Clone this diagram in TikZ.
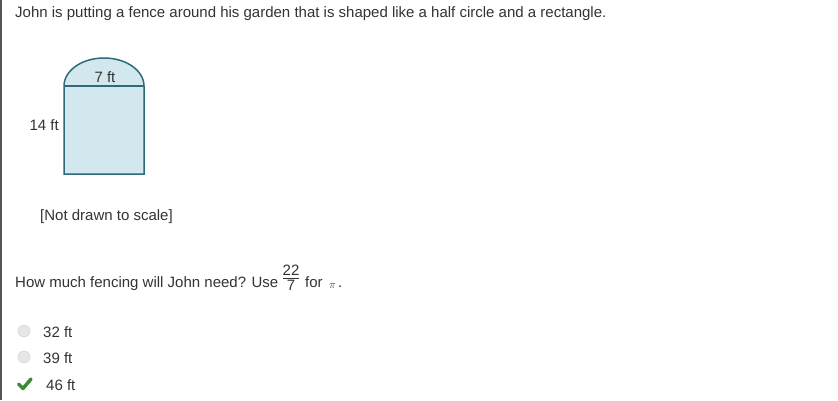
\documentclass[tikz,border=0pt]{standalone}
\usepackage{fontspec}
\setmainfont{Liberation Sans}
\newfontfamily\mathish{Liberation Serif}
\definecolor{txt}{HTML}{333333}
\definecolor{edge}{HTML}{2F6A78}
\definecolor{fillb}{HTML}{D3E7EE}
\definecolor{radio}{HTML}{E6E6E6}
\definecolor{radioe}{HTML}{D6D6D6}
\definecolor{okgreen}{HTML}{3A8A3A}
\definecolor{bar}{HTML}{555555}
\tikzset{
  lbl/.style={inner sep=0pt, anchor=base west, text=txt, font=\fontsize{15}{17}\selectfont},
  radiobtn/.style={circle, draw=radioe, fill=radio, minimum size=12pt, inner sep=0pt, line width=0.6pt},
}
\begin{document}
\begin{tikzpicture}[x=1pt,y=-1pt]
\useasboundingbox (0,0) rectangle (838,400);
\fill[white] (0,0) rectangle (838,400);
\fill[bar] (0,0) rectangle (2,400);
% title
\node[lbl] (title) at (15,17) {John is putting a fence around his garden that is shaped like a half circle and a rectangle.};
% garden shape
\coordinate (tl) at (64,86);
\coordinate (tr) at (144,86);
\coordinate (br) at (144,174);
\coordinate (bl) at (64,174);
\filldraw[draw=edge, fill=fillb, line width=1.5pt] (bl) -- (tl) arc[start angle=180, end angle=0, x radius=40, y radius=-28] -- (br) -- cycle;
\draw[edge, line width=1.2pt] (tl) -- (tr);
\node[lbl, anchor=base] (top) at (105,82) {7 ft};
\node[lbl, anchor=base east] (side) at (59,130) {14 ft};
\node[lbl] (scale) at (40,220) {[Not drawn to scale]};
% question
\node[lbl] (q) at (15,287) {How much fencing will John need? Use};
\node[lbl, anchor=base] (num) at (291,275) {22};
\draw[txt, line width=0.6pt] (283,278) -- (299,278);
\node[lbl, anchor=base] (den) at (291,290) {7};
\node[lbl] (for) at (305,287) {for};
\node[lbl, anchor=base west, font=\mathish\itshape\fontsize{11}{13}\selectfont] (pi) at (329,288) {\(\pi\)};
\node[lbl] (dot) at (338,287) {.};
% options
\node[radiobtn] (r1) at (24,331) {};
\node[radiobtn] (r2) at (24,357) {};
\node[lbl] (o1) at (43,337) {32 ft};
\node[lbl] (o2) at (43,363) {39 ft};
\node[lbl] (o3) at (46,390) {46 ft};
\coordinate (c1) at (18.5,384);
\coordinate (c2) at (23,388.5);
\coordinate (c3) at (31,379);
\draw[okgreen, line width=3.5pt, line cap=round, line join=round] (c1) -- (c2) -- (c3);
\end{tikzpicture}
\end{document}
